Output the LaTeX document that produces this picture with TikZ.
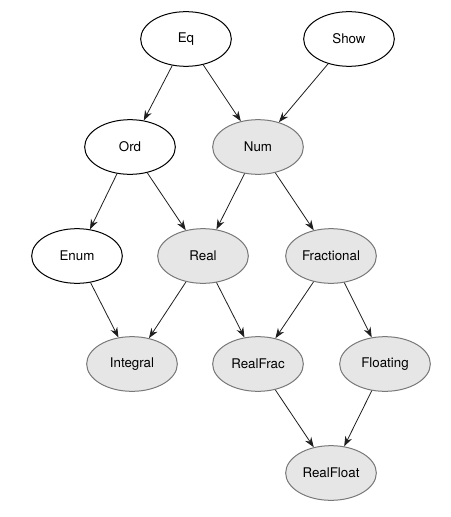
\documentclass[tikz,border=0pt]{standalone}
\usepackage{fontspec}
\setmainfont{TeX Gyre Heros}
\usetikzlibrary{shapes.geometric,arrows.meta}

\tikzset{every picture/.style={line width=0.75pt}}
\tikzset{
  plainclass/.style={ellipse,draw=black,fill=white,minimum width=68pt,minimum height=41pt,inner sep=0pt,font=\fontsize{10}{12}\selectfont},
  numclass/.style={plainclass,draw={rgb,255:red,120;green,120;blue,120},fill={rgb,255:red,230;green,230;blue,230}},
  isa/.style={-{Stealth[length=7.5pt,width=5.5pt]},line width=0.6pt,draw={rgb,255:red,30;green,30;blue,30}}
}

\begin{document}
\begin{tikzpicture}[x=0.75pt,y=0.75pt,yscale=-1,xscale=1]
\useasboundingbox (0,0) rectangle (450,517);

% Classes
\node [plainclass] (eq) at (186,39) {Eq};
\node [plainclass] (show) at (349,39) {Show};
\node [plainclass] (ord) at (130,147) {Ord};
\node [numclass] (num) at (258,147) {Num};
\node [plainclass] (enum) at (77,256) {Enum};
\node [numclass] (real) at (203,256) {Real};
\node [numclass] (fractional) at (331,256) {Fractional};
\node [numclass] (integral) at (132,364) {Integral};
\node [numclass] (realfrac) at (258,364) {RealFrac};
\node [numclass] (floating) at (385,364) {Floating};
\node [numclass] (realfloat) at (331,473) {RealFloat};

% Superclass arrows
\draw [isa] (eq) -- (ord);
\draw [isa] (eq) -- (num);
\draw [isa] (show) -- (num);
\draw [isa] (ord) -- (enum);
\draw [isa] (ord) -- (real);
\draw [isa] (num) -- (real);
\draw [isa] (num) -- (fractional);
\draw [isa] (enum) -- (integral);
\draw [isa] (real) -- (integral);
\draw [isa] (real) -- (realfrac);
\draw [isa] (fractional) -- (realfrac);
\draw [isa] (fractional) -- (floating);
\draw [isa] (realfrac) -- (realfloat);
\draw [isa] (floating) -- (realfloat);

\end{tikzpicture}
\end{document}
